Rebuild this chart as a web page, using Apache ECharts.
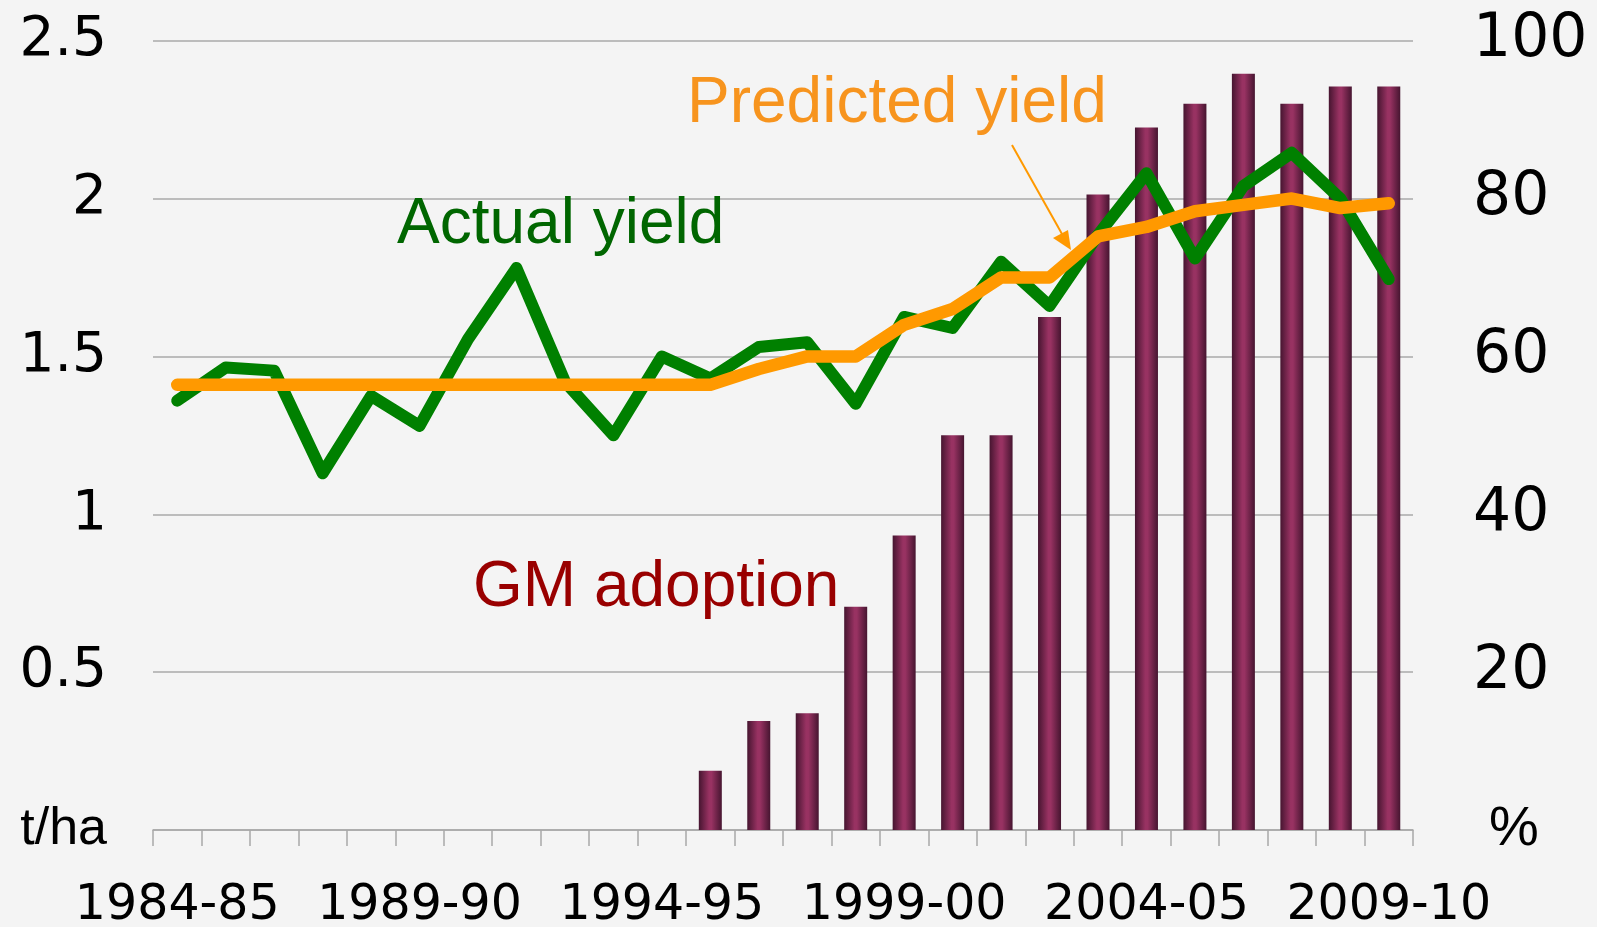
<!DOCTYPE html>
<html>
<head>
<meta charset="utf-8">
<script src="https://cdn.jsdelivr.net/npm/echarts@6/dist/echarts.min.js"></script>
<style>
html,body{margin:0;padding:0;background:#f4f4f4;}
#c{width:1597px;height:927px;}
</style>
</head>
<body>
<div id="c"></div>
<script>
var categories = ["1984-85","1985-86","1986-87","1987-88","1988-89","1989-90","1990-91","1991-92","1992-93","1993-94","1994-95","1995-96","1996-97","1997-98","1998-99","1999-00","2000-01","2001-02","2002-03","2003-04","2004-05","2005-06","2006-07","2007-08","2008-09","2009-10"];
var actualYield = [1.36,1.465,1.455,1.13,1.375,1.28,1.555,1.78,1.42,1.25,1.50,1.43,1.53,1.545,1.35,1.625,1.59,1.80,1.66,1.885,2.08,1.81,2.04,2.145,2.0,1.745];
var predictedYield = [1.41,1.41,1.41,1.41,1.41,1.41,1.41,1.41,1.41,1.41,1.41,1.41,1.46,1.50,1.50,1.60,1.65,1.75,1.75,1.88,1.91,1.96,1.98,2.00,1.97,1.985];
var gmAdoption = [null,null,null,null,null,null,null,null,null,null,null,7.5,13.8,14.8,28.3,37.3,50,50,65,80.5,89,92,95.8,92,94.2,94.2];
var leftTicks = {0:"t/ha",0.5:"0.5",1:"1",1.5:"1.5",2:"2",2.5:"2.5"};
var rightTicks = {0:"%",20:"20",40:"40",60:"60",80:"80",100:"100"};

var chart = echarts.init(document.getElementById('c'), null, {renderer:'canvas'});
var barGrad = new echarts.graphic.LinearGradient(0,0,1,0,[
  {offset:0,color:'#461530'},
  {offset:0.45,color:'#983262'},
  {offset:0.55,color:'#983262'},
  {offset:1,color:'#461530'}
]);
var option = {
  backgroundColor:'#f4f4f4',
  animation:false,
  grid:{left:153,right:184,top:40.7,bottom:97,containLabel:false,outerBoundsMode:'none'},
  xAxis:{
    type:'category',
    data:categories,
    boundaryGap:true,
    axisLine:{show:true,lineStyle:{color:'#a8a8a8',width:1.5}},
    axisTick:{show:true,interval:0,length:16,lineStyle:{color:'#a8a8a8',width:1.5}},
    axisLabel:{interval:4,margin:52,color:'#000',fontFamily:'DejaVu Sans',fontSize:49}
  },
  yAxis:[
    {type:'value',min:0,max:2.5,interval:0.5,position:'left',
     axisLine:{show:false},axisTick:{show:false},
     splitLine:{show:true,lineStyle:{color:'#aaaaaa',width:1.5}},
     axisLabel:{margin:46,color:'#000',fontFamily:'DejaVu Sans',fontSize:55,
       formatter:function(v){var t=leftTicks[v];return v===0?'{u|'+t+'}':t;},
       rich:{u:{fontFamily:'Liberation Sans',fontSize:52,color:'#000'}}}},
    {type:'value',min:0,max:100,interval:20,position:'right',
     axisLine:{show:false},axisTick:{show:false},splitLine:{show:false},
     axisLabel:{margin:60,color:'#000',fontFamily:'DejaVu Sans',fontSize:60,align:'left',
       formatter:function(v){var t=rightTicks[v];return v===0?'{u|'+t+'}':t;},
       rich:{u:{fontFamily:'Liberation Sans',fontSize:56,color:'#000',padding:[0,0,0,16]}}}}
  ],
  series:[
    {name:'GM adoption',type:'bar',yAxisIndex:1,data:gmAdoption,barWidth:23,
     itemStyle:{color:barGrad},z:1},
    {name:'Actual yield',type:'line',yAxisIndex:0,data:actualYield,symbol:'none',
     lineStyle:{color:'#008000',width:12,cap:'round',join:'round'},z:3},
    {name:'Predicted yield',type:'line',yAxisIndex:0,data:predictedYield,symbol:'none',
     lineStyle:{color:'#ff9900',width:12.5,cap:'round',join:'round'},z:4}
  ],
  graphic:[
    {type:'text',z:10,x:397,y:225.5,style:{text:'Actual yield',fill:'#006600',font:'64px "Liberation Sans"',textAlign:'left',textVerticalAlign:'middle'}},
    {type:'text',z:10,x:687,y:104.5,style:{text:'Predicted yield',fill:'#f7941e',font:'64px "Liberation Sans"',textAlign:'left',textVerticalAlign:'middle'}},
    {type:'text',z:10,x:473,y:588.5,style:{text:'GM adoption',fill:'#990000',font:'64px "Liberation Sans"',textAlign:'left',textVerticalAlign:'middle'}},
    {type:'line',z:10,shape:{x1:1012,y1:145,x2:1062,y2:234},style:{stroke:'#ff9900',lineWidth:2}},
    {type:'polygon',z:10,shape:{points:[[1071,250],[1053,238],[1068,230]]},style:{fill:'#ff9900'}}
  ]
};
chart.setOption(option);
</script>
</body>
</html>
